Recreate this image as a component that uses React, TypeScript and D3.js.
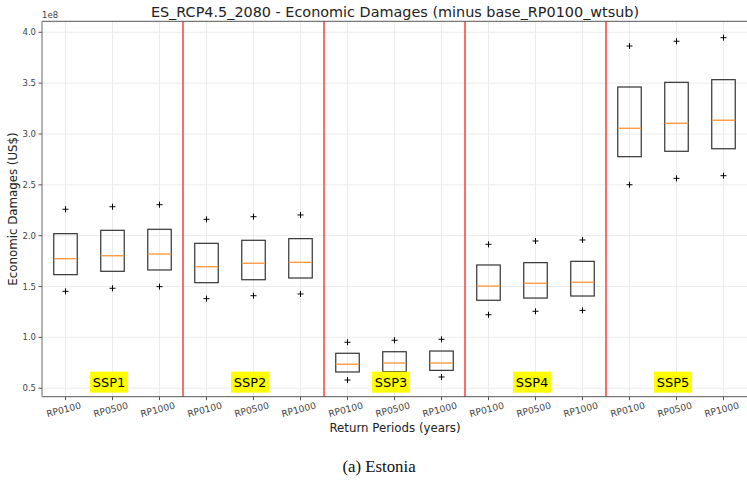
import React from "react";
import * as d3 from "d3";

const returnPeriods = ["RP0100", "RP0500", "RP1000"];
const scenarios = ["SSP1", "SSP2", "SSP3", "SSP4", "SSP5"];
// values in units of 1e8 US$, ordered SSP1..SSP5 x RP0100, RP0500, RP1000
const q3Values = [2.02, 2.053, 2.063, 1.925, 1.955, 1.971, 0.844, 0.859, 0.866, 1.712, 1.735, 1.748, 3.462, 3.508, 3.534];
const q1Values = [1.617, 1.65, 1.663, 1.538, 1.567, 1.584, 0.66, 0.663, 0.676, 1.365, 1.387, 1.407, 2.777, 2.83, 2.855];
const medianValues = [1.774, 1.803, 1.82, 1.695, 1.729, 1.738, 0.736, 0.748, 0.748, 1.505, 1.532, 1.542, 3.056, 3.105, 3.135];
const upperMarks = [2.26, 2.285, 2.305, 2.161, 2.187, 2.204, 0.952, 0.972, 0.981, 1.915, 1.948, 1.958, 3.865, 3.912, 3.947];
const lowerMarks = [1.453, 1.483, 1.499, 1.381, 1.41, 1.427, 0.581, 0.598, 0.611, 1.223, 1.257, 1.266, 2.501, 2.564, 2.59];
const yTicks = [0.5, 1.0, 1.5, 2.0, 2.5, 3.0, 3.5, 4.0];

const W = 747;
const H = 481;
const left = 42;
const right = 747;
const top = 21.3;
const bottom = 396.7;

export default function App() {
  const categories = scenarios.flatMap((s) => returnPeriods.map((rp) => ({ s, rp })));
  const x = d3.scaleLinear().domain([0.5, categories.length + 0.5]).range([left, right]);
  const y = d3.scaleLinear().domain([0.417, 4.108]).range([bottom, top]);
  const bw = x(1.25) - x(1);
  const font = "DejaVu Sans, sans-serif";
  const plus = (cx: number, cy: number, key: string) => (
    <g key={key} stroke="#000" strokeWidth={1}>
      <line x1={cx - 3} x2={cx + 3} y1={cy} y2={cy} />
      <line x1={cx} x2={cx} y1={cy - 3} y2={cy + 3} />
    </g>
  );
  return (
    <div style={{ position: "absolute", left: 0, top: 0 }}>
      <svg width={W} height={H} style={{ display: "block" }}>
        <rect width={W} height={H} fill="#fff" />
        {/* grid */}
        {yTicks.map((t) => (
          <line key={"gy" + t} x1={left} x2={right} y1={y(t)} y2={y(t)} stroke="#ebebeb" strokeWidth={1} />
        ))}
        {categories.map((_, i) => (
          <line key={"gx" + i} x1={x(i + 1)} x2={x(i + 1)} y1={top} y2={bottom} stroke="#ebebeb" strokeWidth={1} />
        ))}
        {/* separators */}
        {scenarios.slice(1).map((_, i) => (
          <line key={"sep" + i} x1={x((i + 1) * 3 + 0.5)} x2={x((i + 1) * 3 + 0.5)} y1={top} y2={bottom} stroke="#ff3b3b" strokeWidth={1.5} />
        ))}
        {/* boxes */}
        {categories.map((c, i) => {
          const cx = x(i + 1);
          return (
            <g key={"b" + i}>
              <rect x={cx - bw} y={y(q3Values[i])} width={2 * bw} height={y(q1Values[i]) - y(q3Values[i])} fill="none" stroke="#333" strokeWidth={1.2} />
              <line x1={cx - bw} x2={cx + bw} y1={y(medianValues[i])} y2={y(medianValues[i])} stroke="#ff9a45" strokeWidth={1.4} />
              {plus(cx, y(upperMarks[i]), "u" + i)}
              {plus(cx, y(lowerMarks[i]), "l" + i)}
            </g>
          );
        })}
        {/* scenario labels */}
        {scenarios.map((s, i) => {
          const cx = x(i * 3 + 2) - 3.5;
          const cy = y(0.56);
          return (
            <g key={"s" + s}>
              <rect x={cx - 19} y={cy - 10.5} width={38} height={21} fill="#ffff00" />
              <text x={cx} y={cy + 4.5} textAnchor="middle" fontFamily={font} fontSize={13} fill="#000">{s}</text>
            </g>
          );
        })}
        {/* spines */}
        <line x1={left} x2={right} y1={top} y2={top} stroke="#555" strokeWidth={1} />
        <line x1={left} x2={right} y1={bottom} y2={bottom} stroke="#555" strokeWidth={1} />
        <line x1={left} x2={left} y1={top} y2={bottom} stroke="#999" strokeWidth={1.5} />
        {/* y ticks */}
        {yTicks.map((t) => (
          <g key={"yt" + t}>
            <line x1={left - 3.5} x2={left} y1={y(t)} y2={y(t)} stroke="#555" />
            <text x={left - 6} y={y(t) + 3} textAnchor="end" fontFamily={font} fontSize={8.5} fill="#444">{t.toFixed(1)}</text>
          </g>
        ))}
        <text x={left} y={18} fontFamily={font} fontSize={8.5} fill="#444">1e8</text>
        {/* x ticks */}
        {categories.map((c, i) => (
          <g key={"xt" + i}>
            <line x1={x(i + 1)} x2={x(i + 1)} y1={bottom} y2={bottom + 3.5} stroke="#555" />
            <text transform={`translate(${x(i + 1) - 1},${bottom + 16}) rotate(-15)`} textAnchor="middle" fontFamily={font} fontSize={9.2} fill="#444">{c.rp}</text>
          </g>
        ))}
        <text x={395} y={432} textAnchor="middle" fontFamily={font} fontSize={11.8} fill="#222">Return Periods (years)</text>
        <text transform={`translate(17,${(top + bottom) / 2}) rotate(-90)`} textAnchor="middle" fontFamily={font} fontSize={11.8} fill="#222">Economic Damages (US$)</text>
        <text x={395} y={17} textAnchor="middle" fontFamily={font} fontSize={14.4} fill="#222">ES_RCP4.5_2080 - Economic Damages (minus base_RP0100_wtsub)</text>
        <text x={379} y={471.5} textAnchor="middle" fontFamily="Liberation Serif, serif" fontSize={16.8} fill="#111">(a) Estonia</text>
      </svg>
    </div>
  );
}
